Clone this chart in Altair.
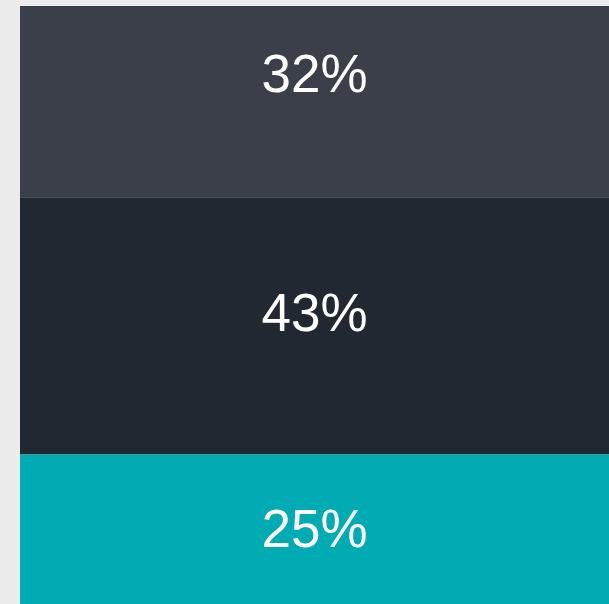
import altair as alt
import pandas as pd

segments = ["Top", "Middle", "Bottom"]
values = [32, 43, 25]
labels = ["32%", "43%", "25%"]
colors = ["#3b3f49", "#222832", "#00abb3"]

starts = []
acc = 0
for v in values:
    starts.append(acc)
    acc += v
df = pd.DataFrame({
    "segment": segments,
    "value": values,
    "label": labels,
    "start": starts,
    "end": [s + v for s, v in zip(starts, values)],
})
df["mid"] = (df["start"] + df["end"]) / 2

yscale = alt.Scale(domain=[0, 100], reverse=True, nice=False, zero=False)
label_scale = alt.Scale(domain=[5, 99], reverse=True, nice=False, zero=False)

rects = alt.Chart(df).mark_rect().encode(
    y=alt.Y("start:Q", scale=yscale, axis=None),
    y2="end:Q",
    color=alt.Color("segment:N", scale=alt.Scale(domain=segments, range=colors), legend=None),
)

text = alt.Chart(df).mark_text(
    font="Liberation Sans", fontSize=53, color="white", baseline="middle", align="center"
).encode(
    y=alt.Y("mid:Q", scale=label_scale, axis=None),
    text="label:N",
)

chart = alt.layer(rects, text).resolve_scale(y="independent").properties(
    width=589, height=598,
    padding={"left": 20, "top": 6, "right": 0, "bottom": 0},
    autosize=alt.AutoSizeParams(type="none"),
    background="#ececec",
).configure_view(stroke="#9a9ca2", strokeWidth=1)

chart.save("out.html", embed_options={"renderer": "svg", "actions": False})
